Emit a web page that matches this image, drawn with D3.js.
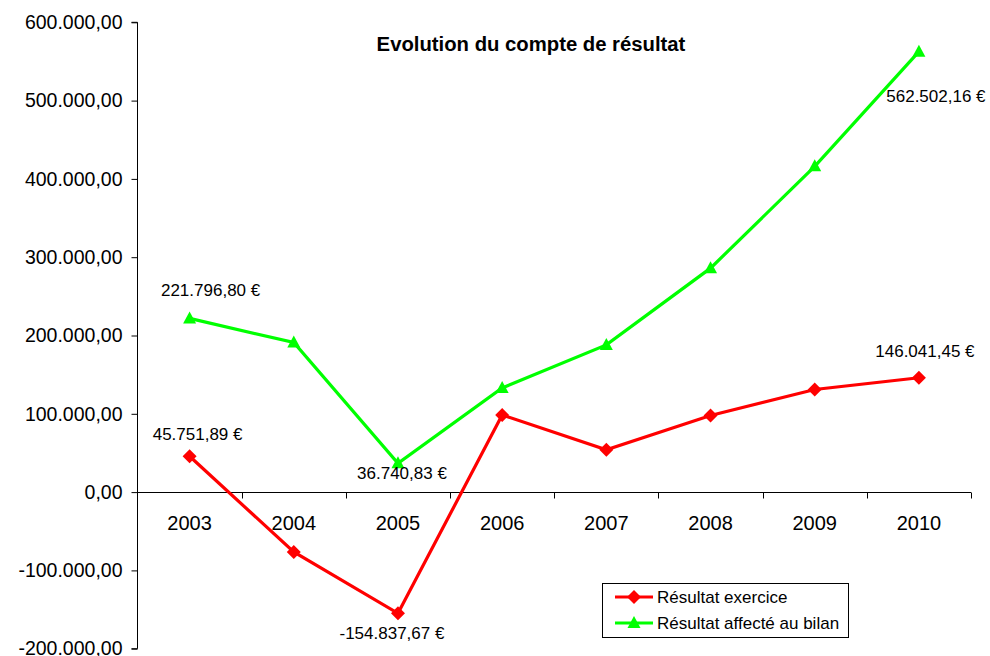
<!DOCTYPE html>
<html><head><meta charset="utf-8">
<script src="https://cdn.jsdelivr.net/npm/d3@7/dist/d3.min.js"></script>
<style>
html,body{margin:0;padding:0;background:#fff;}
svg{display:block;font-family:"Liberation Sans",Arial,sans-serif;}
</style></head>
<body><svg id="c" width="990" height="656"></svg>
<script>
const years = ["2003","2004","2005","2006","2007","2008","2009","2010"];
const resultatExercice = [45751.89, -76500, -154837.67, 98500, 54000, 97800, 131000, 146041.45];
const resultatBilan = [221796.80, 191000, 36740.83, 133000, 188000, 286000, 416000, 562502.16];
const yTicks = [-200000, -100000, 0, 100000, 200000, 300000, 400000, 500000, 600000];
const seriesNames = ["Résultat exercice", "Résultat affecté au bilan"];
const title = "Evolution du compte de résultat";

const svg = d3.select("#c");
const loc = d3.formatLocale({decimal: ",", thousands: ".", grouping: [3], currency: ["", " €"], minus: "-"});
const fmt = loc.format(",.2f");

const x = d3.scaleBand().domain(years).range([137.5, 971]);
const y = d3.scaleLinear().domain([-200000, 600000]).range([648.7, 22.3]);
const cx = d => x(d) + x.bandwidth() / 2;

// Y axis
const yAxis = d3.axisLeft(y).tickValues(yTicks).tickFormat(fmt).tickSize(6).tickPadding(9);
const gy = svg.append("g").attr("transform", "translate(137.5,0)").call(yAxis);
gy.select(".domain").attr("stroke", "#000").attr("d", `M-6,${y(600000)}H0V${y(-200000)}H-6`);
gy.selectAll(".tick line").attr("stroke", "#000");
gy.selectAll(".tick text").attr("fill", "#000").style("font-size", "19.5px").style("font-family", "'Liberation Sans',Arial,sans-serif");

// X axis at zero
const y0 = Math.round(y(0)) + 0.5;
svg.append("line").attr("x1", 137.5).attr("x2", 971).attr("y1", y0).attr("y2", y0).attr("stroke", "#000");
svg.selectAll(".xt").data(years.slice(1).concat(["end"])).enter().append("line")
  .attr("x1", (d, i) => Math.round(x(years[0]) + (i + 1) * x.bandwidth()) + 0.5)
  .attr("x2", (d, i) => Math.round(x(years[0]) + (i + 1) * x.bandwidth()) + 0.5)
  .attr("y1", y0).attr("y2", y0 + 6).attr("stroke", "#000");
svg.selectAll(".xl").data(years).enter().append("text")
  .attr("x", d => cx(d)).attr("y", y0 + 37).attr("text-anchor", "middle")
  .style("font-size", "20px").attr("fill", "#000").text(d => d);

// Title
svg.append("text").attr("x", 531).attr("y", 51).attr("text-anchor", "middle")
  .style("font-size", "20.3px").style("font-weight", "bold").text(title);

// Lines
const line = d3.line().x((d, i) => cx(years[i])).y(d => y(d));
svg.append("path").datum(resultatBilan).attr("d", line).attr("fill", "none").attr("stroke", "#00FF00").attr("stroke-width", 3.2).attr("stroke-linejoin", "miter");
svg.append("path").datum(resultatExercice).attr("d", line).attr("fill", "none").attr("stroke", "#FF0000").attr("stroke-width", 3.2).attr("stroke-linejoin", "miter");

const tri = "M0,-7L6.5,5L-6.5,5Z";
const dia = "M0,-7L7,0L0,7L-7,0Z";
svg.selectAll(".mg").data(resultatBilan).enter().append("path")
  .attr("d", tri).attr("transform", (d, i) => `translate(${cx(years[i])},${y(d)})`).attr("fill", "#00FF00");
svg.selectAll(".mr").data(resultatExercice).enter().append("path")
  .attr("d", dia).attr("transform", (d, i) => `translate(${cx(years[i])},${y(d)})`).attr("fill", "#FF0000");

// Data labels
const labels = [
  {s: resultatBilan, i: 0, dx: 21, dy: -28},
  {s: resultatExercice, i: 0, dx: 8, dy: -22},
  {s: resultatBilan, i: 2, dx: 4, dy: 10},
  {s: resultatExercice, i: 2, dx: -6, dy: 20},
  {s: resultatExercice, i: 7, dx: 6, dy: -27},
  {s: resultatBilan, i: 7, dx: 17, dy: 44}
];
svg.selectAll(".dl").data(labels).enter().append("text")
  .attr("x", d => cx(years[d.i]) + d.dx).attr("y", d => y(d.s[d.i]) + d.dy)
  .attr("dy", "0.35em").attr("text-anchor", "middle").style("font-size", "17px").attr("fill", "#000")
  .text(d => fmt(d.s[d.i]) + " €");

// Legend
const lg = svg.append("g");
lg.append("rect").attr("x", 602.5).attr("y", 583.5).attr("width", 246).attr("height", 54).attr("fill", "#fff").attr("stroke", "#000");
const colors = ["#FF0000", "#00FF00"];
const shapes = [dia, tri];
seriesNames.forEach((n, k) => {
  const yy = 597 + k * 26;
  lg.append("line").attr("x1", 615).attr("x2", 653).attr("y1", yy).attr("y2", yy).attr("stroke", colors[k]).attr("stroke-width", 3.2);
  lg.append("path").attr("d", shapes[k]).attr("transform", `translate(634,${yy})`).attr("fill", colors[k]);
  lg.append("text").attr("x", 657).attr("y", yy).attr("dy", "0.35em").style("font-size", "17px").text(n);
});
</script>
</body></html>
